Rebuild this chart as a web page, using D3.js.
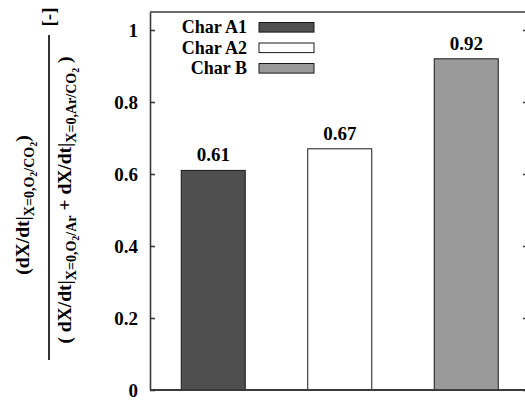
<!DOCTYPE html>
<html>
<head>
<script src="https://d3js.org/d3.v7.min.js"></script>
<style>
  body { margin: 0; background: #fff; }
  svg text { font-family: "Liberation Serif", Tinos, "Times New Roman", Times, "DejaVu Serif", serif !important; font-weight: bold; fill: #000; }
</style>
</head>
<body>
<svg width="525" height="402"></svg>
<script>
// chart data
var categories = ["Char A1", "Char A2", "Char B"];
var ratios = [0.61, 0.67, 0.92];
var valueLabels = ["0.61", "0.67", "0.92"];
var barColors = ["#4f4f4f", "#ffffff", "#9a9a9a"];
var yTicks = [0, 0.2, 0.4, 0.6, 0.8, 1];
var yTickLabels = ["0", "0.2", "0.4", "0.6", "0.8", "1"];

// y label pieces: [text, level] level 0 normal, 1 subscript, 2 sub-subscript
var numerator = [["(dX/dt|", 0], ["X=0,O", 1], ["2", 2], ["/CO", 1], ["2", 2], [")", 0]];
var denominator = [["( dX/dt|", 0], ["X=0,O", 1], ["2", 2], ["/Ar", 1], [" + dX/dt|", 0],
                   ["X=0,Ar/CO", 1], ["2", 2], [" )", 0]];

var serif = "'Liberation Serif', Tinos, 'Times New Roman', serif";
var svg = d3.select("svg").attr("font-family", serif);
var plotLeft = 150, plotRight = 528, plotTop = 12, plotBottom = 390;

var x = d3.scaleBand()
    .domain(categories)
    .range([plotLeft, 529.5])
    .paddingInner(0.494)
    .paddingOuter(0.247);

var y = d3.scaleLinear()
    .domain([0, 1.05])
    .range([plotBottom, plotTop]);

// bars
svg.selectAll("rect.bar")
  .data(categories)
  .enter().append("rect")
    .attr("class", "bar")
    .attr("x", function(d) { return x(d); })
    .attr("y", function(d, i) { return y(ratios[i]); })
    .attr("width", x.bandwidth())
    .attr("height", function(d, i) { return y(0) - y(ratios[i]); })
    .attr("fill", function(d, i) { return barColors[i]; })
    .attr("stroke", "#1a1a1a")
    .attr("stroke-width", 1);

// value labels
svg.selectAll("text.val")
  .data(categories)
  .enter().append("text")
    .attr("class", "val")
    .attr("x", function(d) { return x(d) + x.bandwidth() / 2; })
    .attr("y", function(d, i) { return y(ratios[i]) - 9; })
    .attr("text-anchor", "middle")
    .style("font-size", "19px")
    .text(function(d, i) { return valueLabels[i]; });

// left axis
var yAxis = d3.axisLeft(y)
    .tickValues(yTicks)
    .tickFormat(function(d, i) { return yTickLabels[i]; })
    .tickSizeInner(-5)
    .tickSizeOuter(0)
    .tickPadding(12);

var gy = svg.append("g")
    .attr("transform", "translate(" + plotLeft + ",0)")
    .call(yAxis);
gy.attr("font-family", serif).attr("font-size", null);
gy.selectAll("text").style("font-size", "19px");
gy.selectAll("path, line").attr("stroke", "#3a3a3a").attr("stroke-width", 1.6);

// right axis, ticks only
var gr = svg.append("g")
    .attr("transform", "translate(" + plotRight + ",0)")
    .call(d3.axisRight(y).tickValues(yTicks).tickFormat("").tickSizeInner(-5).tickSizeOuter(0));
gr.selectAll("path, line").attr("stroke", "#3a3a3a").attr("stroke-width", 1.4);

// top and bottom frame
svg.append("line")
    .attr("x1", plotLeft).attr("x2", plotRight)
    .attr("y1", y(1.05)).attr("y2", y(1.05))
    .attr("stroke", "#3a3a3a").attr("stroke-width", 1.6);
svg.append("line")
    .attr("x1", plotLeft).attr("x2", plotRight)
    .attr("y1", y(0)).attr("y2", y(0))
    .attr("stroke", "#3a3a3a").attr("stroke-width", 1.8);

// legend
var legend = svg.append("g");
categories.forEach(function(c, i) {
  var cy = 27.3 + i * 20.5;
  legend.append("text")
      .attr("x", 247)
      .attr("y", cy + 6)
      .attr("text-anchor", "end")
      .style("font-size", "18px")
      .text(c);
  legend.append("rect")
      .attr("x", 259)
      .attr("y", cy - 4.8)
      .attr("width", 55)
      .attr("height", 9.6)
      .attr("fill", barColors[i])
      .attr("stroke", "#1a1a1a")
      .attr("stroke-width", 1);
});

// y label (rotated fraction)
var sizes = [19.5, 14, 10];
var shifts = [0, 5, 8];

function richText(g, parts) {
  var t = g.append("text").attr("text-anchor", "middle");
  var prev = 0;
  parts.forEach(function(p) {
    t.append("tspan")
        .attr("dy", shifts[p[1]] - shifts[prev])
        .style("font-size", sizes[p[1]] + "px")
        .text(p[0]);
    prev = p[1];
  });
  return t;
}

var num = svg.append("g").attr("transform", "translate(29,205) rotate(-90)");
richText(num, numerator).attr("xml:space", "preserve");

var den = svg.append("g").attr("transform", "translate(71,200) rotate(-90)");
richText(den, denominator).attr("xml:space", "preserve");

svg.append("line")
    .attr("x1", 49).attr("x2", 49)
    .attr("y1", 35).attr("y2", 360)
    .attr("stroke", "#000").attr("stroke-width", 1.6);

svg.append("text")
    .attr("transform", "translate(55,17) rotate(-90)")
    .attr("text-anchor", "middle")
    .style("font-size", "19px")
    .text("[-]");
</script>
</body>
</html>
